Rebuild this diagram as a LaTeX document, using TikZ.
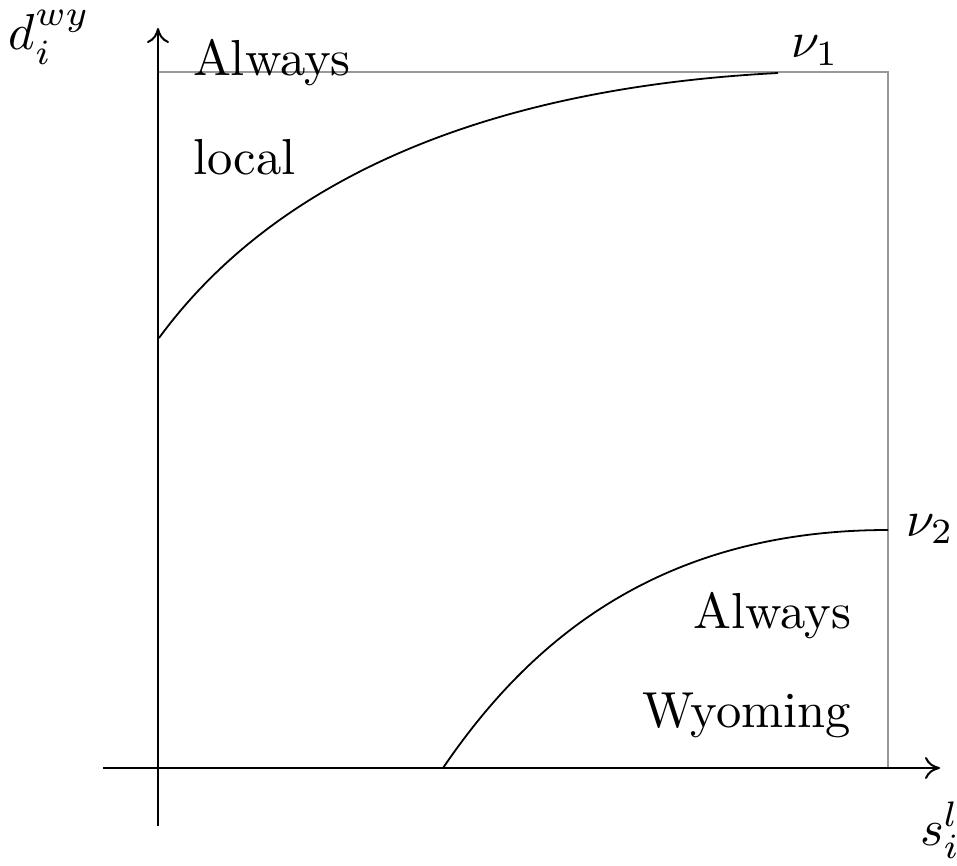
\documentclass[tikz,border=0pt]{standalone}
\usetikzlibrary{arrows.meta}
\newcommand{\bigtxt}[1]{\scalebox{2.53}{#1}}
\begin{document}
\begin{tikzpicture}[x=0.5pt,y=-0.5pt,
  lbl/.style={inner sep=0pt, outer sep=0pt},
  axis/.style={line width=1pt, -{Computer Modern Rightarrow[length=7.5pt,width=11pt]}},
  curve/.style={line width=0.9pt},
  frame/.style={line width=0.8pt, draw=black!40}]
\useasboundingbox (0,0) rectangle (957,866);
% coordinates
\coordinate (ybot) at (158,826);
\coordinate (ytop) at (158,28);
\coordinate (xleft) at (103,768);
\coordinate (xright) at (940,768);
\coordinate (ftl) at (158,72);
\coordinate (ftr) at (888,72);
\coordinate (fbr) at (888,768);
\coordinate (c1s) at (159,338);
\coordinate (c1e) at (778,73);
\coordinate (c2s) at (443,768);
\coordinate (c2e) at (888,530);
% frame
\draw[frame] (ftl) -- (ftr) -- (fbr);
% axes
\draw[axis] (ybot) -- (ytop);
\draw[axis] (xleft) -- (xright);
% curves
\draw[curve] (c1s) .. controls (260,200) and (450,90) .. (c1e);
\draw[curve] (c2s) .. controls (530,640) and (660,530) .. (c2e);
% labels
\node[lbl, anchor=base west] (dlab) at (9,50) {\bigtxt{$d_i^{wy}$}};
\node[lbl, anchor=base west] (slab) at (920,845) {\bigtxt{$s_i^l$}};
\node[lbl, anchor=base west] (nu1) at (791,58) {\bigtxt{$\nu_1$}};
\node[lbl, anchor=base west] (nu2) at (906,536) {\bigtxt{$\nu_2$}};
\node[lbl, anchor=base west] (al1) at (193,76) {\bigtxt{Always}};
\node[lbl, anchor=base west] (loc) at (193,175) {\bigtxt{local}};
\node[lbl, anchor=base east] (al2) at (851,628) {\bigtxt{Always}};
\node[lbl, anchor=base east] (wyo) at (851,727) {\bigtxt{Wyoming}};
\end{tikzpicture}
\end{document}
